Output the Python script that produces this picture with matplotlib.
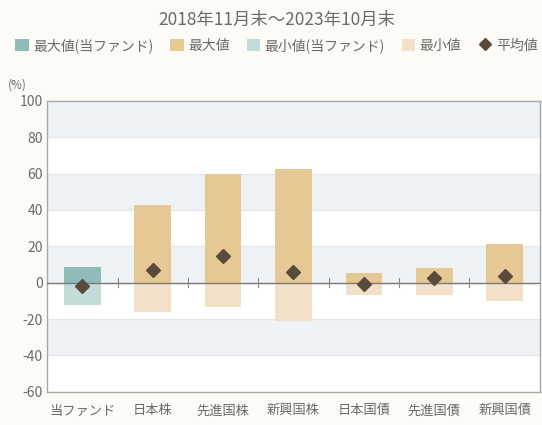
import matplotlib
matplotlib.use("Agg")
import matplotlib.pyplot as plt
from matplotlib.patches import Patch
from matplotlib.lines import Line2D
import numpy as np

plt.rcParams["font.family"] = ["Noto Sans CJK JP", "DejaVu Sans"]

categories = ["当ファンド", "日本株", "先進国株", "新興国株", "日本国債", "先進国債", "新興国債"]
max_vals = [8.7, 42.5, 60.0, 62.7, 5.4, 8.0, 21.0]
min_vals = [-12.1, -16.3, -13.4, -20.9, -6.5, -6.8, -9.8]
avg_vals = [-2.0, 6.8, 14.9, 5.9, -1.0, 2.8, 3.5]

title = "2018年11月末～2023年10月末"
yticks = [100, 80, 60, 40, 20, 0, -20, -40, -60]

bg = "#fcfbf6"
text_c = "#6a6a6a"
fund_max_c = "#8fbcb8"
fund_min_c = "#c3dcd9"
max_c = "#e6c894"
min_c = "#f3e0c8"
avg_c = "#5a4a3c"

fig = plt.figure(figsize=(5.42, 4.25), dpi=100, facecolor=bg)
ax = fig.add_axes([0.087, 0.078, 0.909, 0.685])
ax.set_facecolor("white")

# horizontal stripes
for lo in range(-40, 100, 40):
    ax.axhspan(lo, lo + 20, color="#eef2f5", zorder=0, lw=0)
for y in yticks[1:-1]:
    ax.axhline(y, color="#e2e6ea", lw=0.8, zorder=0.5)

x = np.arange(len(categories))
w = 0.52
maxc = [fund_max_c] + [max_c] * (len(categories) - 1)
minc = [fund_min_c] + [min_c] * (len(categories) - 1)
ax.bar(x, max_vals, width=w, color=maxc, zorder=2)
ax.bar(x, min_vals, width=w, color=minc, zorder=2)
ax.axhline(0, color="#7a7a7a", lw=1.0, zorder=3)
ax.plot(x, avg_vals, "D", color=avg_c, ms=7, zorder=4, ls="none")

# small separators on zero line
for xm in x[:-1] + 0.5:
    ax.plot([xm, xm], [-2.5, 2.5], color="#8a8a8a", lw=0.8, zorder=3)

ax.set_xlim(-0.5, len(categories) - 0.5)
ax.set_ylim(-60, 100)
ax.set_yticks(yticks)
ax.set_yticklabels([str(v) for v in yticks], color=text_c, fontsize=10)
ax.set_xticks(x)
ax.set_xticklabels(categories, color=text_c, fontsize=9.5)
ax.tick_params(axis="x", length=0, pad=9)
ax.tick_params(axis="y", length=0, pad=3)
for s in ax.spines.values():
    s.set_color("#a8a8a8")
    s.set_linewidth(1.0)

fig.text(0.51, 0.952, title, ha="center", va="center", fontsize=12.5, color=text_c)
fig.text(0.015, 0.8, "(%)", ha="left", va="center", fontsize=8.5, color=text_c)

handles = [
    Patch(facecolor=fund_max_c, label="最大値(当ファンド)"),
    Patch(facecolor=max_c, label="最大値"),
    Patch(facecolor=fund_min_c, label="最小値(当ファンド)"),
    Patch(facecolor=min_c, label="最小値"),
    Line2D([], [], marker="D", color=avg_c, ls="none", ms=6, label="平均値"),
]
leg = fig.legend(handles=handles, loc="center", bbox_to_anchor=(0.51, 0.893), ncol=5,
                 frameon=False, fontsize=10, handlelength=1.0, handleheight=1.0,
                 handletextpad=0.3, columnspacing=1.2, labelcolor=text_c)

fig.savefig("out.png", dpi=100, facecolor=bg)
